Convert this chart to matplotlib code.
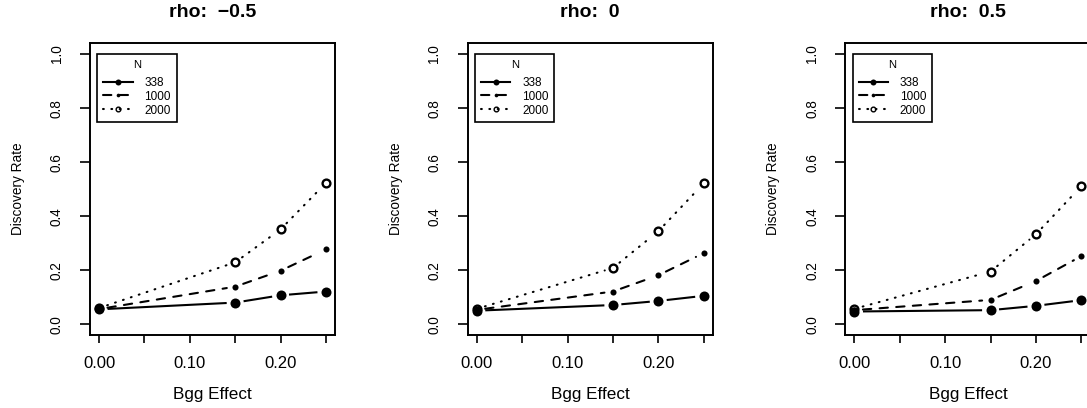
import numpy as np
import matplotlib
matplotlib.use("Agg")
import matplotlib.pyplot as plt
from matplotlib.lines import Line2D

plt.rcParams['font.family'] = ['Liberation Sans', 'DejaVu Sans']

# simulation results: discovery rate by Bgg effect, one panel per rho
bgg_effect = [0.00, 0.15, 0.20, 0.25]
rho_values = ["\u22120.5", "0", "0.5"]
sample_sizes = ["338", "1000", "2000"]

rate_rho_neg = {
    "338":  [0.055, 0.080, 0.107, 0.121],
    "1000": [0.056, 0.139, 0.198, 0.277],
    "2000": [0.060, 0.229, 0.351, 0.523],
}
rate_rho_zero = {
    "338":  [0.050, 0.071, 0.086, 0.105],
    "1000": [0.053, 0.121, 0.181, 0.263],
    "2000": [0.057, 0.208, 0.344, 0.521],
}
rate_rho_pos = {
    "338":  [0.047, 0.052, 0.068, 0.089],
    "1000": [0.052, 0.090, 0.160, 0.252],
    "2000": [0.057, 0.195, 0.333, 0.511],
}
rates = [rate_rho_neg, rate_rho_zero, rate_rho_pos]

# line / point style per N (R: lty 1,2,3 ; big dot, small dot, open circle)
styles = {
    "338":  dict(ls="-", ms=7.2, mfc="black", mew=0.0),
    "1000": dict(ls=(0, (4, 4)), ms=4.4, mfc="black", mew=0.0),
    "2000": dict(ls=(0, (0.4, 3.6)), ms=5.6, mfc="none", mew=1.7),
}
LW = 1.5
GAP_PX = 8.5

W, H = 1087, 408
fig = plt.figure(figsize=(W / 100, H / 100), dpi=100)


def gapped_segments(ax, x, y, gap):
    # type="b" style: leave a gap around each point
    tr = ax.transData
    pts = tr.transform(np.column_stack([x, y]))
    segs = []
    for p0, p1 in zip(pts[:-1], pts[1:]):
        d = p1 - p0
        L = np.hypot(*d)
        if L <= 2 * gap:
            continue
        u = d / L
        segs.append(tr.inverted().transform(np.array([p0 + u * gap, p1 - u * gap])))
    return segs


ax_w, ax_h = 245, 291.7
for i, (rho, data) in enumerate(zip(rho_values, rates)):
    left = 90 + 377.7 * i
    ax = fig.add_axes([left / W, 73 / H, ax_w / W, ax_h / H])
    ax.set_xlim(-0.01, 0.26)
    ax.set_ylim(-0.04, 1.04)

    for n in sample_sizes:
        st = styles[n]
        for seg in gapped_segments(ax, bgg_effect, data[n], GAP_PX):
            ax.plot(seg[:, 0], seg[:, 1], color="black", lw=LW, ls=st["ls"],
                    solid_capstyle="butt", dash_capstyle="round")
    for n in ["2000", "1000", "338"]:
        st = styles[n]
        ax.plot(bgg_effect, data[n], ls="none", marker="o", ms=st["ms"],
                mfc=st["mfc"], mec="black", mew=st["mew"], color="black")

    ax.set_xticks([0, 0.05, 0.10, 0.15, 0.20, 0.25])
    ax.set_xticklabels(["0.00", "", "0.10", "", "0.20", ""])
    ax.set_yticks([0, 0.2, 0.4, 0.6, 0.8, 1.0])
    ax.set_yticklabels(["0.0", "0.2", "0.4", "0.6", "0.8", "1.0"],
                       rotation=90, va="center")
    ax.tick_params(axis="x", length=6, width=1.2, pad=9, labelsize=12)
    ax.tick_params(axis="y", length=7, width=1.2, pad=12, labelsize=9.8)
    for sp in ax.spines.values():
        sp.set_linewidth(1.4)

    ax.set_xlabel("Bgg Effect", fontsize=12.3, va="center")
    ax.xaxis.set_label_coords(0.5, -60 / ax_h)
    ax.set_ylabel("Discovery Rate", fontsize=9.8, va="center")
    ax.yaxis.set_label_coords(-72 / ax_w, 0.5)
    ax.text(0.5, (395 - 73) / ax_h, "rho:  " + rho, transform=ax.transAxes,
            ha="center", va="center", fontsize=14, fontweight="bold")

    handles = [Line2D([], [], color="black", lw=LW, ls=styles[n]["ls"],
                      marker="o", ms=styles[n]["ms"], mfc=styles[n]["mfc"],
                      mec="black", mew=styles[n]["mew"] * 0.6,
                      dash_capstyle="round")
               for n in sample_sizes]
    leg = ax.legend(handles, sample_sizes, title="N", loc="upper left",
                    bbox_to_anchor=(7.3 / ax_w, 1 - 13.5 / ax_h, 79.4 / ax_w, 0.01),
                    mode="expand", borderaxespad=0, fontsize=8.5,
                    title_fontsize=8.0, fancybox=False, framealpha=1,
                    edgecolor="black", markerscale=0.6, handlelength=2.5,
                    handletextpad=1.0, labelspacing=0.16, borderpad=0.5)
    leg.get_frame().set_linewidth(1.2)
    # extra room between the legend title and its entries
    leg._legend_box.sep = 5.0

fig.savefig("out.png", dpi=100)
